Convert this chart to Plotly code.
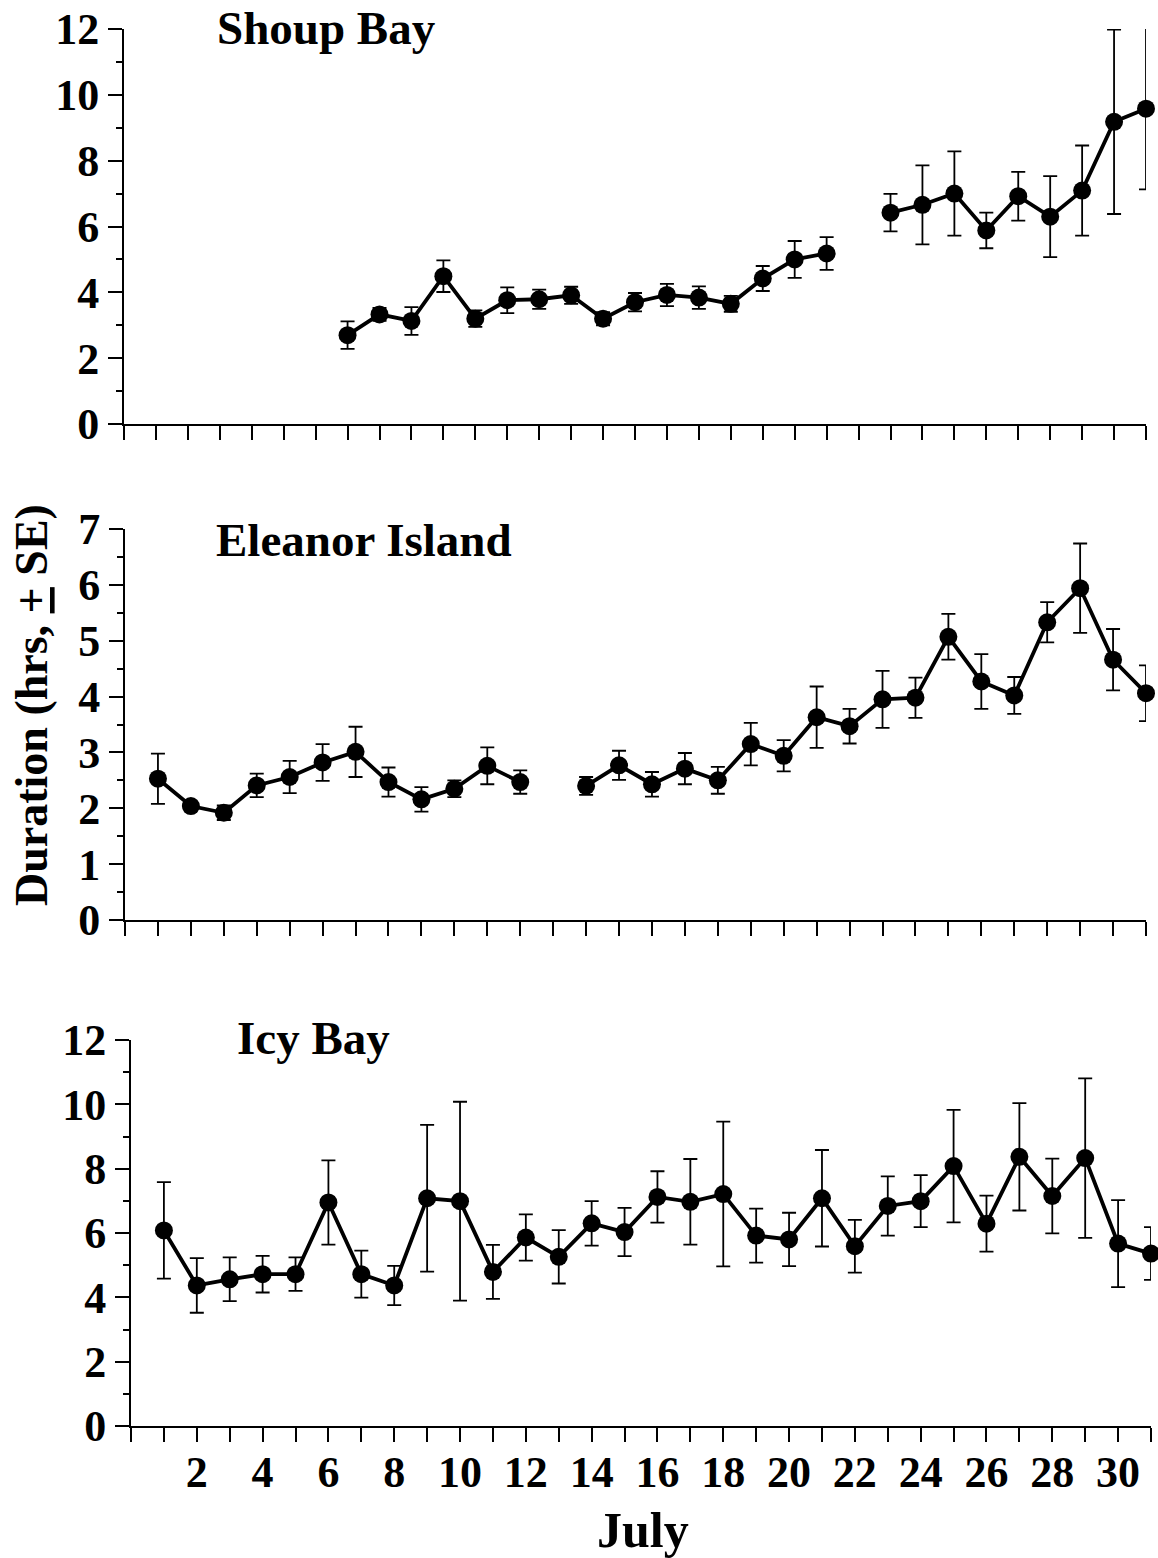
import plotly.graph_objects as go

# ---------------- data ----------------
# Shoup Bay (July days; no observation on 22)
shoup_days = [6, 7, 8, 9, 10, 11, 12, 13, 14, 15, 16, 17, 18, 19, 20, 21, None,
              23, 24, 25, 26, 27, 28, 29, 30, 31]
shoup_mean = [2.70, 3.33, 3.13, 4.49, 3.20, 3.76, 3.79, 3.91, 3.20, 3.70, 3.92, 3.84,
              3.65, 4.42, 5.00, 5.18, None,
              6.42, 6.66, 7.00, 5.88, 6.92, 6.30, 7.09, 9.18, 9.58]
shoup_se = [0.42, 0.20, 0.42, 0.48, 0.25, 0.39, 0.29, 0.26, 0.20, 0.28, 0.34, 0.34,
            0.24, 0.38, 0.56, 0.50, None,
            0.57, 1.20, 1.28, 0.54, 0.74, 1.23, 1.37, 2.80, 2.45]

# Eleanor Island (no observation on 13)
eleanor_days = [1, 2, 3, 4, 5, 6, 7, 8, 9, 10, 11, 12, None,
                14, 15, 16, 17, 18, 19, 20, 21, 22, 23, 24, 25, 26, 27, 28, 29, 30, 31]
eleanor_mean = [2.53, 2.04, 1.92, 2.41, 2.56, 2.82, 3.01, 2.47, 2.16, 2.35, 2.76, 2.47, None,
                2.40, 2.77, 2.43, 2.71, 2.50, 3.15, 2.94, 3.63, 3.47, 3.95, 3.98, 5.07,
                4.27, 4.02, 5.33, 5.94, 4.66, 4.06]
eleanor_se = [0.45, 0.08, 0.13, 0.21, 0.29, 0.33, 0.45, 0.26, 0.22, 0.15, 0.33, 0.21, None,
              0.16, 0.26, 0.22, 0.28, 0.24, 0.38, 0.28, 0.55, 0.31, 0.51, 0.36, 0.41,
              0.49, 0.33, 0.36, 0.80, 0.55, 0.50]

# Icy Bay
icy_days = list(range(1, 32))
icy_mean = [6.08, 4.37, 4.56, 4.72, 4.72, 6.95, 4.72, 4.37, 7.08, 6.99, 4.79, 5.86,
            5.26, 6.30, 6.03, 7.12, 6.97, 7.21, 5.92, 5.80, 7.08, 5.59, 6.84, 6.99,
            8.08, 6.29, 8.37, 7.15, 8.33, 5.67, 5.36]
icy_se = [1.50, 0.85, 0.68, 0.57, 0.52, 1.31, 0.73, 0.61, 2.28, 3.09, 0.84, 0.72,
          0.83, 0.69, 0.75, 0.80, 1.33, 2.25, 0.84, 0.83, 1.50, 0.82, 0.92, 0.81,
          1.75, 0.87, 1.67, 1.16, 2.48, 1.35, 0.82]

panel_titles = ["Shoup Bay", "Eleanor Island", "Icy Bay"]
x_tick_vals = list(range(0, 32))
x_tick_text = [str(d) if (d % 2 == 0 and d > 0) else "" for d in x_tick_vals]
y_title = "Duration (hrs, <u>+</u> SE)"
x_title = "July"

# ---------------- figure ----------------
W, H = 1158, 1558
FONT = "Liberation Serif"


def px(x):
    return x / W


def py(y):
    return 1 - y / H


fig = go.Figure()

panels = [
    (shoup_days, shoup_mean, shoup_se, "x", "y"),
    (eleanor_days, eleanor_mean, eleanor_se, "x2", "y2"),
    (icy_days, icy_mean, icy_se, "x3", "y3"),
]
for days, mean, se, xa, ya in panels:
    fig.add_trace(go.Scatter(
        x=days, y=mean, xaxis=xa, yaxis=ya, mode="lines+markers",
        connectgaps=False,
        line=dict(color="black", width=3.8),
        marker=dict(color="black", size=18),
        error_y=dict(type="data", array=se, visible=True, color="black",
                     thickness=1.8, width=7),
        showlegend=False, cliponaxis=False,
    ))

axis_common = dict(showline=True, linecolor="black", linewidth=2, showgrid=False,
                   zeroline=False, ticks="outside", tickcolor="black", tickwidth=1.5,
                   automargin=False)
xfont = dict(family=FONT, size=44, color="black", weight="bold")
yfont = dict(family=FONT, size=44, color="black", weight="bold")
minor_y = dict(ticklen=6, tickcolor="black", ticks="outside", showgrid=False)

layout = dict(
    width=W, height=H, margin=dict(l=0, r=0, t=0, b=0, autoexpand=False),
    paper_bgcolor="white", plot_bgcolor="white", showlegend=False,
    # Shoup Bay
    xaxis=dict(axis_common, domain=[px(124), px(1146)], range=[-1, 31], anchor="y",
               tickmode="linear", tick0=-1, dtick=1, ticklen=14, showticklabels=False),
    yaxis=dict(axis_common, domain=[py(424), py(29)], range=[0, 12], anchor="x",
               tickmode="linear", tick0=0, dtick=2, ticklen=14, tickfont=yfont,
               minor=dict(minor_y, dtick=1)),
    # Eleanor Island
    xaxis2=dict(axis_common, domain=[px(125), px(1146)], range=[0, 31], anchor="y2",
                tickmode="linear", tick0=0, dtick=1, ticklen=14, showticklabels=False),
    yaxis2=dict(axis_common, domain=[py(920), py(529)], range=[0, 7], anchor="x2",
                tickmode="linear", tick0=0, dtick=1, ticklen=14, tickfont=yfont,
                minor=dict(minor_y, dtick=0.5)),
    # Icy Bay
    xaxis3=dict(axis_common, domain=[px(131), px(1151)], range=[0, 31], anchor="y3",
                tickmode="array", tickvals=x_tick_vals, ticktext=x_tick_text,
                ticklen=14, tickfont=xfont, ticklabelstandoff=-8),
    yaxis3=dict(axis_common, domain=[py(1426), py(1040)], range=[0, 12], anchor="x3",
                tickmode="linear", tick0=0, dtick=2, ticklen=14, tickfont=yfont,
                minor=dict(minor_y, dtick=1)),
)
fig.update_layout(**layout)

title_pos = [(326, 28), (364, 540), (313, 1038)]
for t, (cx, cy) in zip(panel_titles, title_pos):
    fig.add_annotation(text=t, x=px(cx), y=py(cy), xref="paper", yref="paper",
                       showarrow=False, xanchor="center", yanchor="middle",
                       font=dict(family=FONT, size=47, color="black", weight="bold"))

fig.add_annotation(text=y_title, x=px(32), y=py(705), xref="paper", yref="paper",
                   showarrow=False, textangle=-90, xanchor="center", yanchor="middle",
                   font=dict(family=FONT, size=46, color="black", weight="bold"))
fig.add_annotation(text=x_title, x=px(643), y=py(1530), xref="paper", yref="paper",
                   showarrow=False, xanchor="center", yanchor="middle",
                   font=dict(family=FONT, size=50, color="black", weight="bold"))

fig.write_html(
    "out.html",
    config={"displayModeBar": False},
    post_script="document.body.style.margin='0';document.body.style.overflow='hidden';",
)
